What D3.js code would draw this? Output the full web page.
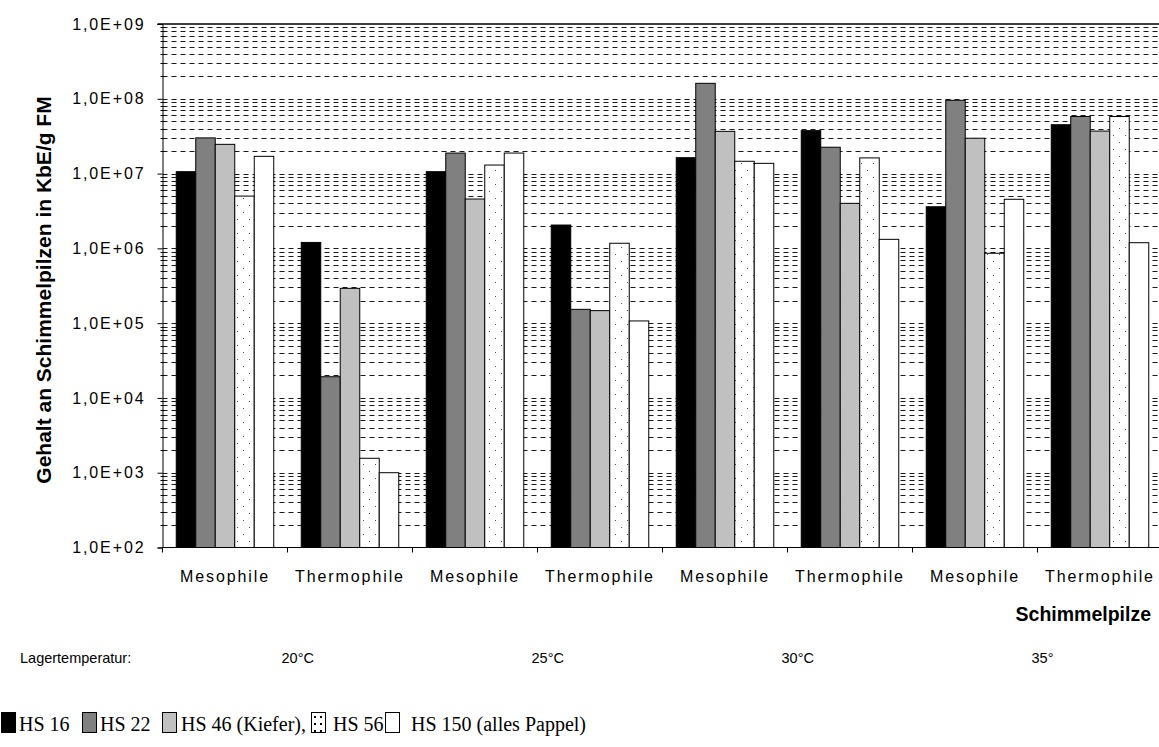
<!DOCTYPE html>
<html><head><meta charset="utf-8">
<script src="https://cdn.jsdelivr.net/npm/d3@7"></script>
<style>
body{margin:0;background:#fff;}
svg{display:block;}
</style></head>
<body>
<svg id="chart" width="1159" height="747"></svg>
<script>
const categories = ["Mesophile","Thermophile","Mesophile","Thermophile","Mesophile","Thermophile","Mesophile","Thermophile"];
const temperatures = ["20°C","25°C","30°C","35°"];
const seriesNames = ["HS 16","HS 22","HS 46 (Kiefer),","HS 56","HS 150 (alles Pappel)"];
const hs16  = [1.06e7, 1.2e6, 1.06e7, 2.05e6, 1.63e7, 3.75e7, 3.6e6, 4.5e7];
const hs22  = [3.0e7, 1.92e4, 1.88e7, 1.53e5, 1.61e8, 2.25e7, 9.55e7, 5.8e7];
const hs46  = [2.46e7, 2.92e5, 4.57e6, 1.47e5, 3.67e7, 4.0e6, 2.97e7, 3.7e7];
const hs56  = [5.0e6, 1.56e3, 1.30e7, 1.17e6, 1.46e7, 1.62e7, 8.6e5, 5.8e7];
const hs150 = [1.70e7, 1.0e3, 1.88e7, 1.07e5, 1.37e7, 1.32e6, 4.53e6, 1.19e6];
const yTicks = [1e2,1e3,1e4,1e5,1e6,1e7,1e8,1e9];
const yTickLabels = ["1,0E+02","1,0E+03","1,0E+04","1,0E+05","1,0E+06","1,0E+07","1,0E+08","1,0E+09"];

const series = [hs16, hs22, hs46, hs56, hs150];
const fills = ["#000000","#808080","#c0c0c0","url(#dots)","#ffffff"];

const svg = d3.select("#chart");
const pLeft = 162.5, pRight = 1162.5, pTop = 24, pBottom = 547.5;

const defs = svg.append("defs");
const pat = defs.append("pattern").attr("id","dots").attr("patternUnits","userSpaceOnUse")
  .attr("width",12).attr("height",14);
pat.append("rect").attr("width",12).attr("height",14).attr("fill","#fff");
pat.append("rect").attr("x",3).attr("y",2).attr("width",1).attr("height",1).attr("fill","#555");
pat.append("rect").attr("x",9).attr("y",9).attr("width",1).attr("height",1).attr("fill","#555");
const patS = defs.append("pattern").attr("id","dotsS").attr("patternUnits","userSpaceOnUse")
  .attr("width",6).attr("height",7);
patS.append("rect").attr("width",6).attr("height",7).attr("fill","#fff");
patS.append("rect").attr("x",2).attr("y",2).attr("width",2).attr("height",2).attr("fill","#000");

const x = d3.scaleBand().domain(d3.range(categories.length)).range([pLeft, pRight]).padding(0);
const xs = d3.scaleBand().domain(d3.range(series.length)).range([0, x.bandwidth()]).paddingInner(0).paddingOuter(0.705);
const y = d3.scaleLog().domain([1e2,1e9]).range([pBottom, pTop]);

// gridlines
const grid = [];
for (let k = 2; k < 9; k++) for (let m = 1; m <= 9; m++) { const v = m*Math.pow(10,k); if (v > 1e2 && v < 1e9) grid.push(v); }
svg.append("g").selectAll("line").data(grid).join("line")
  .attr("x1", pLeft).attr("x2", 1159)
  .attr("y1", d => Math.round(y(d))+0.5).attr("y2", d => Math.round(y(d))+0.5)
  .attr("stroke","#1a1a1a").attr("stroke-width",1).attr("stroke-dasharray","5,4");

// bars
const bars = [];
series.forEach((s,i) => s.forEach((v,j) => bars.push({i,j,v})));
svg.append("g").selectAll("rect").data(bars).join("rect")
  .attr("x", d => x(d.j) + xs(d.i))
  .attr("width", xs.bandwidth())
  .attr("y", d => y(d.v))
  .attr("height", d => pBottom - y(d.v))
  .attr("fill", d => fills[d.i])
  .attr("stroke", "#000").attr("stroke-width", 1);

// top border
svg.append("line").attr("x1", pLeft-5).attr("x2", 1159).attr("y1", pTop).attr("y2", pTop).attr("stroke","#000").attr("stroke-width",1.5);

// y axis
const yAxis = d3.axisLeft(y).tickValues(yTicks).tickSize(5).tickPadding(12)
  .tickFormat((d,i) => yTickLabels[i]);
const ga = svg.append("g").attr("transform",`translate(${pLeft},0)`).call(yAxis);
ga.select(".domain").attr("stroke","#000");
ga.selectAll("text").attr("font-family","'Liberation Sans', Arial, sans-serif").attr("font-size",16)
  .attr("letter-spacing","1.9px").attr("fill","#000");
// minor ticks
svg.append("g").selectAll("line").data(grid.filter(v => !yTicks.includes(v))).join("line")
  .attr("x1", pLeft-2).attr("x2", pLeft+2)
  .attr("y1", d => Math.round(y(d))+0.5).attr("y2", d => Math.round(y(d))+0.5)
  .attr("stroke","#000");

// x axis
svg.append("line").attr("x1", pLeft).attr("x2", 1159).attr("y1", pBottom).attr("y2", pBottom).attr("stroke","#000");
svg.append("g").selectAll("line").data(d3.range(categories.length)).join("line")
  .attr("x1", d => x(d)).attr("x2", d => x(d)).attr("y1", pBottom).attr("y2", pBottom+5).attr("stroke","#000");
svg.append("g").selectAll("text").data(categories).join("text")
  .attr("x", (d,i) => x(i) + x.bandwidth()/2).attr("y", 582)
  .attr("text-anchor","middle")
  .attr("font-family","'Liberation Sans', Arial, sans-serif").attr("font-size",16).attr("letter-spacing","1.9px")
  .text(d => d);

svg.append("text").attr("x",1151).attr("y",621).attr("text-anchor","end")
  .attr("font-family","'Liberation Sans', Arial, sans-serif").attr("font-size",19.5).attr("font-weight","bold")
  .text("Schimmelpilze");

// y title
svg.append("text").attr("transform",`translate(51,290) rotate(-90)`).attr("text-anchor","middle")
  .attr("font-family","'Liberation Sans', Arial, sans-serif").attr("font-size",21).attr("font-weight","bold")
  .text("Gehalt an Schimmelpilzen in KbE/g FM");

// temperatures row
svg.append("text").attr("x",20).attr("y",663)
  .attr("font-family","'Liberation Sans', Arial, sans-serif").attr("font-size",14.5).text("Lagertemperatur:");
svg.append("g").selectAll("text").data(temperatures).join("text")
  .attr("x",(d,i) => x(2*i+1) - 6).attr("y",663)
  .attr("font-family","'Liberation Sans', Arial, sans-serif").attr("font-size",14.5).text(d => d);

// legend
const legX = [1, 82, 162, 311, 385];
const legTX = [19, 100, 181, 333, 411];
const legFill = ["#000","#808080","#c0c0c0","url(#dotsS)","#fff"];
const lg = svg.append("g");
seriesNames.forEach((n,i) => {
  lg.append("rect").attr("x",legX[i]+0.5).attr("y",712.5).attr("width",14).attr("height",20)
    .attr("fill",legFill[i]).attr("stroke","#000").attr("stroke-width",1);
  lg.append("text").attr("x",legTX[i]).attr("y",731)
    .attr("font-family","'Liberation Serif', 'Times New Roman', serif").attr("font-size",20).text(n);
});
</script>
</body></html>
